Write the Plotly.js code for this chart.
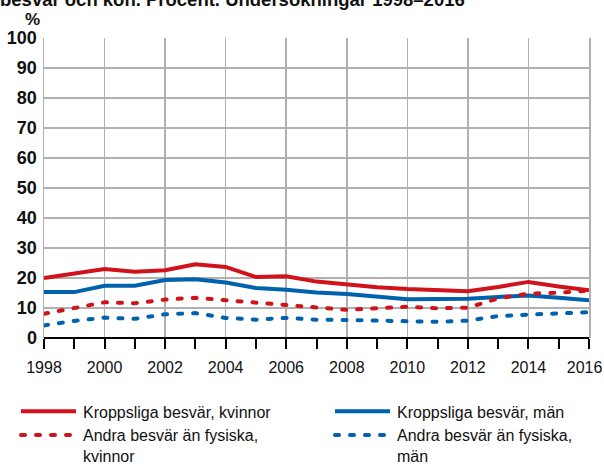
<!DOCTYPE html>
<html><head><meta charset="utf-8">
<script src="https://cdn.plot.ly/plotly-3.0.1.min.js"></script>
<style>html,body{margin:0;padding:0;background:#fff}#c{width:604px;height:464px}</style>
</head><body><div id="c"></div>
<script>
const years = [1998,1999,2000,2001,2002,2003,2004,2005,2006,2007,2008,2009,2010,2011,2012,2013,2014,2015,2016];
const tickYears = [1998,2000,2002,2004,2006,2008,2010,2012,2014,2016];
const tickLabels = ['1998','2000','2002','2004','2006','2008','2010','2012','2014','2016\u00a0\u00a0'];
const kroppKvinnor = [20,21.6,23,22.1,22.6,24.6,23.7,20.3,20.6,18.8,17.7,16.9,16.3,16,15.6,17,18.7,17.2,15.9];
const kroppMan = [15.3,15.3,17.4,17.4,19.3,19.6,18.5,16.7,16.1,15.2,14.7,13.9,12.9,13,13.1,13.7,14.2,13.4,12.6];
const andraKvinnor = [8.1,10,11.9,11.6,12.8,13.4,12.6,11.8,11,10.4,9.4,9.9,10.4,9.9,10.1,13.2,14.8,15.1,15.8];
const andraMan = [4.2,5.7,6.8,6.4,7.9,8.3,6.7,6.1,6.7,6.1,6,5.8,5.6,5.4,5.8,7.3,7.8,8.3,8.6];
const names = ['Kroppsliga besvär, kvinnor','Kroppsliga besvär, män','Andra besvär än fysiska,<br>kvinnor','Andra besvär än fysiska,<br>män'];
const red = '#d0121b', blue = '#0061ad';
const dots = '4px,11px';
const traces = [
  {x: years, y: kroppKvinnor, name: names[0], mode:'lines', line:{color:red, width:4}, legend:'legend'},
  {x: years, y: kroppMan, name: names[1], mode:'lines', line:{color:blue, width:4}, legend:'legend2'},
  {x: years, y: andraKvinnor, name: names[2], mode:'lines', line:{color:red, width:4, dash:dots}, legend:'legend'},
  {x: years, y: andraMan, name: names[3], mode:'lines', line:{color:blue, width:4, dash:dots}, legend:'legend2'}
];
const lfont = {size:16, family:"'Liberation Sans',Arial,sans-serif", color:'#111'};
const layout = {
  width:604, height:464,
  margin:{l:44, r:15, t:38, b:126, autoexpand:false},
  paper_bgcolor:'#fff', plot_bgcolor:'#fff',
  showlegend:true,
  font:{family:"'Liberation Sans',Arial,sans-serif", color:'#111'},
  title:{text:'besvär och kön. Procent. Undersökningar 1998–2016', x:0, xref:'container', xanchor:'left', y:1.0, yref:'container', yanchor:'middle', font:{size:18.5, weight:'bold', color:'#111'}},
  xaxis:{range:[1998,2016], tickmode:'array', tickvals:tickYears, ticktext:tickLabels, ticks:'outside', ticklen:10, tickwidth:2, tickcolor:'#000',
    showgrid:true, gridcolor:'#b0b0b0', gridwidth:1.5, showline:false, zeroline:false, automargin:false,
    minor:{tickvals:years, ticks:'outside', ticklen:10, tickwidth:2, tickcolor:'#000', showgrid:false},
    tickfont:{size:16, color:'#111'}, ticklabelstandoff:5, tickangle:0, ticklabeloverflow:'allow', fixedrange:true},
  yaxis:{range:[0,100], dtick:10, ticks:'', showgrid:true, gridcolor:'#b0b0b0', gridwidth:1.5, automargin:false,
    showline:true, mirror:true, linecolor:'#b0b0b0', linewidth:1.5, zeroline:true, zerolinecolor:'#000', zerolinewidth:2.5,
    tickfont:{size:18, weight:'bold', color:'#111'}, ticklabelstandoff:2, fixedrange:true},
  legend:{x:16/604, xref:'container', xanchor:'left', y:0.15, yref:'container', yanchor:'top', valign:'top',
    font:lfont, tracegroupgap:0, itemwidth:57, bgcolor:'rgba(0,0,0,0)'},
  legend2:{x:330/604, xref:'container', xanchor:'left', y:0.15, yref:'container', yanchor:'top', valign:'top',
    font:lfont, tracegroupgap:0, itemwidth:57, bgcolor:'rgba(0,0,0,0)'},
  annotations:[{text:'%', xref:'paper', yref:'paper', x:-0.004, y:1, xanchor:'right', yanchor:'bottom', yshift:7, showarrow:false, font:{size:17, weight:'bold', color:'#111'}}]
};
Plotly.newPlot('c', traces, layout, {staticPlot:true}).then(gd => {
  gd.querySelectorAll('.legendlines path').forEach(p => { p.setAttribute('d', 'M5,0h55'); });
  gd.querySelectorAll('.legendlines path, .scatterlayer .js-line').forEach(p => {
    if ((p.style.strokeDasharray || '') !== '' && p.style.strokeDasharray !== 'none') p.style.strokeLinecap = 'round';
  });
});
</script></body></html>
